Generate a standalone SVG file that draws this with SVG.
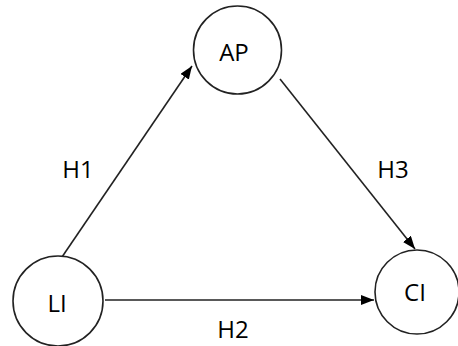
<svg xmlns="http://www.w3.org/2000/svg" width="458" height="346" viewBox="0 0 458 346">
<defs>
<marker id="arr" markerWidth="13" markerHeight="10" refX="13" refY="5" orient="auto" markerUnits="userSpaceOnUse">
<path d="M0,0 L13,5 L0,10 Z" fill="#000"/>
</marker>
<style>
.node circle{fill:#fff;stroke:#222;stroke-width:1.6}
text{font-family:"Open Sans","Liberation Sans",sans-serif;font-size:24px;fill:#000;text-anchor:middle}
.edge{stroke:#222;stroke-width:1.6;fill:none;marker-end:url(#arr)}
</style>
</defs>
<rect width="458" height="346" fill="#fff"/>
<g id="connectors">
<line class="edge" x1="62" y1="257" x2="192" y2="66"/>
<line class="edge" x1="280" y1="79" x2="415" y2="249"/>
<line class="edge" x1="105" y1="300" x2="374" y2="300"/>
<text x="78" y="178">H1</text>
<text x="393" y="178">H3</text>
<text x="233" y="338">H2</text>
</g>
<g id="AP" class="node"><circle cx="237.5" cy="50" r="44"/><text x="234" y="61">AP</text></g>
<g id="LI" class="node"><circle cx="58" cy="301" r="45"/><text x="57" y="312">LI</text></g>
<g id="CI" class="node"><circle cx="417" cy="292" r="42"/><text x="415" y="301">CI</text></g>
</svg>
